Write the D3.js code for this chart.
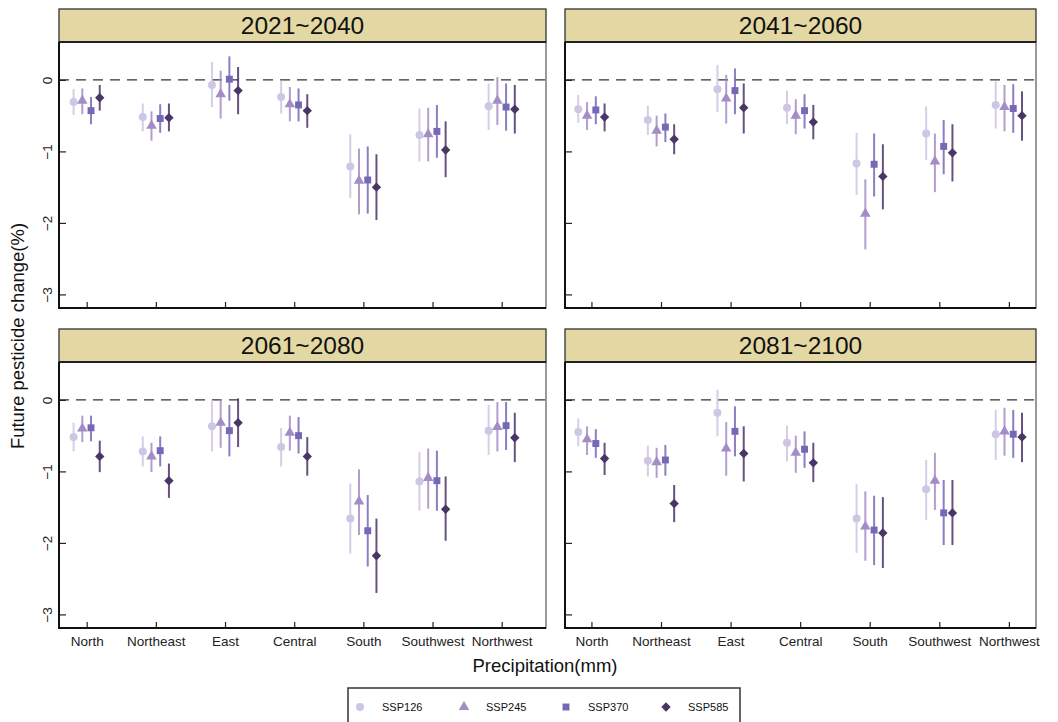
<!DOCTYPE html>
<html>
<head>
<meta charset="utf-8">
<script src="https://cdn.jsdelivr.net/npm/d3@7"></script>
<style>
  body { margin: 0; background: #fff; }
  text { font-family: "Liberation Sans", Arial, sans-serif; }
</style>
</head>
<body>
<div id="chart"></div>
<script>
const regions = ['North', 'Northeast', 'East', 'Central', 'South', 'Southwest', 'Northwest']
const scenarios = ['SSP126', 'SSP245', 'SSP370', 'SSP585']
const periods = ['2021~2040', '2041~2060', '2061~2080', '2081~2100']
const colors = ['#cdc6e4', '#a58cc6', '#7668b6', '#4a3567']
const yTicks = [0, -1, -2, -3]

// mean, low, high per region, one array per scenario and period
const p1_ssp126 = [[-0.31, -0.13, -0.49], [-0.52, -0.33, -0.72], [-0.07, 0.25, -0.38], [-0.24, -0.01, -0.47], [-1.21, -0.76, -1.65], [-0.77, -0.40, -1.14], [-0.37, -0.05, -0.70]]
const p1_ssp245 = [[-0.29, -0.12, -0.48], [-0.64, -0.44, -0.85], [-0.20, 0.13, -0.54], [-0.34, -0.10, -0.58], [-1.41, -0.96, -1.88], [-0.76, -0.39, -1.14], [-0.29, 0.04, -0.63]]
const p1_ssp370 = [[-0.43, -0.24, -0.62], [-0.54, -0.34, -0.74], [0.01, 0.33, -0.29], [-0.35, -0.12, -0.58], [-1.40, -0.93, -1.87], [-0.72, -0.35, -1.09], [-0.38, -0.05, -0.71]]
const p1_ssp585 = [[-0.25, -0.07, -0.43], [-0.53, -0.33, -0.72], [-0.15, 0.18, -0.48], [-0.43, -0.20, -0.67], [-1.50, -1.04, -1.96], [-0.98, -0.58, -1.36], [-0.41, -0.07, -0.75]]

const p2_ssp126 = [[-0.41, -0.21, -0.60], [-0.56, -0.36, -0.77], [-0.13, 0.21, -0.45], [-0.39, -0.15, -0.62], [-1.17, -0.74, -1.61], [-0.75, -0.37, -1.12], [-0.35, -0.02, -0.68]]
const p2_ssp245 = [[-0.50, -0.31, -0.70], [-0.71, -0.50, -0.93], [-0.26, 0.07, -0.61], [-0.50, -0.27, -0.76], [-1.87, -1.39, -2.37], [-1.14, -0.75, -1.57], [-0.38, -0.07, -0.72]]
const p2_ssp370 = [[-0.42, -0.23, -0.62], [-0.66, -0.47, -0.87], [-0.15, 0.16, -0.48], [-0.43, -0.20, -0.68], [-1.18, -0.75, -1.63], [-0.93, -0.56, -1.32], [-0.40, -0.06, -0.74]]
const p2_ssp585 = [[-0.52, -0.33, -0.72], [-0.83, -0.62, -1.04], [-0.39, -0.05, -0.75], [-0.59, -0.35, -0.83], [-1.35, -0.90, -1.81], [-1.02, -0.62, -1.42], [-0.50, -0.16, -0.85]]

const p3_ssp126 = [[-0.52, -0.32, -0.72], [-0.72, -0.51, -0.93], [-0.37, 0.00, -0.72], [-0.66, -0.39, -0.93], [-1.66, -1.17, -2.15], [-1.14, -0.73, -1.55], [-0.43, -0.07, -0.77]]
const p3_ssp245 = [[-0.40, -0.22, -0.59], [-0.79, -0.60, -1.01], [-0.32, 0.01, -0.67], [-0.46, -0.22, -0.71], [-1.42, -0.97, -1.89], [-1.09, -0.68, -1.52], [-0.38, -0.03, -0.72]]
const p3_ssp370 = [[-0.39, -0.22, -0.58], [-0.71, -0.51, -0.93], [-0.43, -0.07, -0.79], [-0.50, -0.24, -0.75], [-1.83, -1.33, -2.33], [-1.13, -0.71, -1.55], [-0.36, -0.03, -0.70]]
const p3_ssp585 = [[-0.79, -0.57, -1.01], [-1.13, -0.89, -1.37], [-0.32, 0.02, -0.66], [-0.79, -0.52, -1.06], [-2.18, -1.66, -2.70], [-1.53, -1.07, -1.97], [-0.53, -0.18, -0.87]]

const p4_ssp126 = [[-0.45, -0.26, -0.65], [-0.85, -0.64, -1.07], [-0.18, 0.14, -0.51], [-0.60, -0.36, -0.86], [-1.66, -1.18, -2.14], [-1.25, -0.84, -1.68], [-0.48, -0.14, -0.84]]
const p4_ssp245 = [[-0.55, -0.37, -0.77], [-0.87, -0.67, -1.09], [-0.68, -0.31, -1.06], [-0.74, -0.50, -1.02], [-1.77, -1.28, -2.25], [-1.13, -0.74, -1.54], [-0.44, -0.11, -0.78]]
const p4_ssp370 = [[-0.61, -0.41, -0.81], [-0.84, -0.63, -1.06], [-0.44, -0.09, -0.79], [-0.69, -0.44, -0.95], [-1.82, -1.34, -2.31], [-1.58, -1.12, -2.03], [-0.48, -0.14, -0.81]]
const p4_ssp585 = [[-0.82, -0.60, -1.05], [-1.45, -1.19, -1.71], [-0.75, -0.37, -1.14], [-0.88, -0.60, -1.15], [-1.86, -1.36, -2.35], [-1.58, -1.12, -2.03], [-0.52, -0.18, -0.87]]

const panelData = [
    [p1_ssp126, p1_ssp245, p1_ssp370, p1_ssp585],
    [p2_ssp126, p2_ssp245, p2_ssp370, p2_ssp585],
    [p3_ssp126, p3_ssp245, p3_ssp370, p3_ssp585],
    [p4_ssp126, p4_ssp245, p4_ssp370, p4_ssp585]
]

const W = 1058, H = 722
const svg = d3.select('#chart').append('svg')
    .attr('width', W).attr('height', H)

// panel frames: left/right of the plot area, top of strip, strip bottom, plot bottom
const cols = [{ left: 59, right: 546, dom: [0.6, 7.64] }, { left: 565, right: 1036, dom: [0.62, 7.39] }]
const rows = [{ top: 9, stripBottom: 42, bottom: 308 }, { top: 329, stripBottom: 362, bottom: 628 }]
const yDomain = [-3.19, 0.53]
const dodge = 0.126

// diamond = square turned 45 degrees
const symbols = [d3.symbolCircle, d3.symbolTriangle, d3.symbolSquare, d3.symbolSquare]
const symSize = [50, 48, 48, 44]
const symRot = [0, 0, 0, 45]

periods.forEach((period, pi) => {
    let col = cols[pi % 2]
    let row = rows[Math.floor(pi / 2)]

    let x = d3.scaleLinear().domain(col.dom).range([col.left, col.right])
    let y = d3.scaleLinear().domain(yDomain).range([row.bottom, row.stripBottom])

    let g = svg.append('g')

    // strip
    g.append('rect')
        .attr('x', col.left).attr('y', row.top)
        .attr('width', col.right - col.left).attr('height', row.stripBottom - row.top)
        .attr('fill', '#e3d8a3').attr('stroke', '#333').attr('stroke-width', 1.3)
    g.append('text')
        .attr('x', (col.left + col.right) / 2).attr('y', row.top + 25)
        .attr('text-anchor', 'middle').attr('font-size', 24.5).attr('fill', '#111')
        .text(period)

    // plot border (top/right thin grey)
    g.append('rect')
        .attr('x', col.left).attr('y', row.stripBottom)
        .attr('width', col.right - col.left).attr('height', row.bottom - row.stripBottom)
        .attr('fill', 'none').attr('stroke', '#555').attr('stroke-width', 1.2)
    g.append('line')
        .attr('x1', col.left).attr('x2', col.right)
        .attr('y1', row.stripBottom).attr('y2', row.stripBottom)
        .attr('stroke', '#222').attr('stroke-width', 2)

    // zero line
    g.append('line')
        .attr('x1', col.left).attr('x2', col.right)
        .attr('y1', y(0)).attr('y2', y(0))
        .attr('stroke', '#333').attr('stroke-width', 1.3)
        .attr('stroke-dasharray', '10,7')

    // y axis, ticks inside
    let leftAxis = d3.axisRight(y).tickValues(yTicks).tickSize(7).tickFormat(d3.format('d'))
    let yg = g.append('g').attr('transform', `translate(${col.left},0)`).call(leftAxis)
    yg.select('.domain').remove()
    yg.selectAll('.tick line').attr('stroke', '#222').attr('stroke-width', 1.2)
    yg.selectAll('.tick text').remove()
    if (pi % 2 == 0) {
        yg.selectAll('.tick').append('text')
            .attr('transform', 'translate(-12,0) rotate(-90)')
            .attr('text-anchor', 'middle').attr('dy', '0.35em')
            .attr('font-size', 13.5).attr('fill', '#222')
            .text(d => d3.format('d')(d))
    }

    // x axis, ticks inside
    let bottomAxis = d3.axisTop(x).tickValues(d3.range(1, 8)).tickSize(6).tickFormat((d, i) => regions[i])
    let xg = g.append('g').attr('transform', `translate(0,${row.bottom})`).call(bottomAxis)
    xg.select('.domain').remove()
    xg.selectAll('.tick line').attr('stroke', '#222').attr('stroke-width', 1.2)
    xg.selectAll('.tick text').remove()
    if (pi >= 2) {
        xg.selectAll('.tick').append('text')
            .attr('y', 18).attr('text-anchor', 'middle')
            .attr('font-size', 13.5).attr('fill', '#222')
            .text((d, i) => regions[i])
    }

    // thick left and bottom axis lines
    g.append('line').attr('x1', col.left).attr('x2', col.left)
        .attr('y1', row.stripBottom).attr('y2', row.bottom)
        .attr('stroke', '#111').attr('stroke-width', 2)
    g.append('line').attr('x1', col.left - 1).attr('x2', col.right)
        .attr('y1', row.bottom).attr('y2', row.bottom)
        .attr('stroke', '#111').attr('stroke-width', 2)

    // error bars and points
    panelData[pi].forEach((series, si) => {
        let off = (si - 1.5) * dodge
        let sg = g.append('g')
        sg.selectAll('line.err')
            .data(series)
            .enter()
            .append('line')
            .attr('class', 'err')
            .attr('x1', (d, i) => x(i + 1 + off))
            .attr('x2', (d, i) => x(i + 1 + off))
            .attr('y1', d => y(d[1]))
            .attr('y2', d => y(d[2]))
            .attr('stroke', colors[si]).attr('stroke-opacity', 0.85)
            .attr('stroke-width', 2)
        sg.selectAll('path.pt')
            .data(series)
            .enter()
            .append('path')
            .attr('class', 'pt')
            .attr('d', d3.symbol().type(symbols[si]).size(symSize[si]))
            .attr('transform', (d, i) => `translate(${x(i + 1 + off)},${y(d[0])}) rotate(${symRot[si]})`)
            .attr('fill', colors[si])
    })
})

// axis titles
svg.append('text')
    .attr('transform', 'translate(24,336) rotate(-90)')
    .attr('text-anchor', 'middle').attr('font-size', 18.5).attr('fill', '#111')
    .text('Future pesticide change(%)')
svg.append('text')
    .attr('x', 545).attr('y', 672)
    .attr('text-anchor', 'middle').attr('font-size', 18.5).attr('fill', '#111')
    .text('Precipitation(mm)')

// legend
let lg = svg.append('g')
lg.append('rect')
    .attr('x', 348).attr('y', 688).attr('width', 392).attr('height', 40)
    .attr('fill', '#fff').attr('stroke', '#333').attr('stroke-width', 1.5)
const legendX = [360, 464, 566, 666]
scenarios.forEach((s, i) => {
    lg.append('path')
        .attr('d', d3.symbol().type(symbols[i]).size(symSize[i]))
        .attr('transform', `translate(${legendX[i]},707) rotate(${symRot[i]})`)
        .attr('fill', colors[i])
    lg.append('text')
        .attr('x', legendX[i] + 22).attr('y', 711)
        .attr('font-size', 11).attr('fill', '#111')
        .text(s)
})
</script>
</body>
</html>
